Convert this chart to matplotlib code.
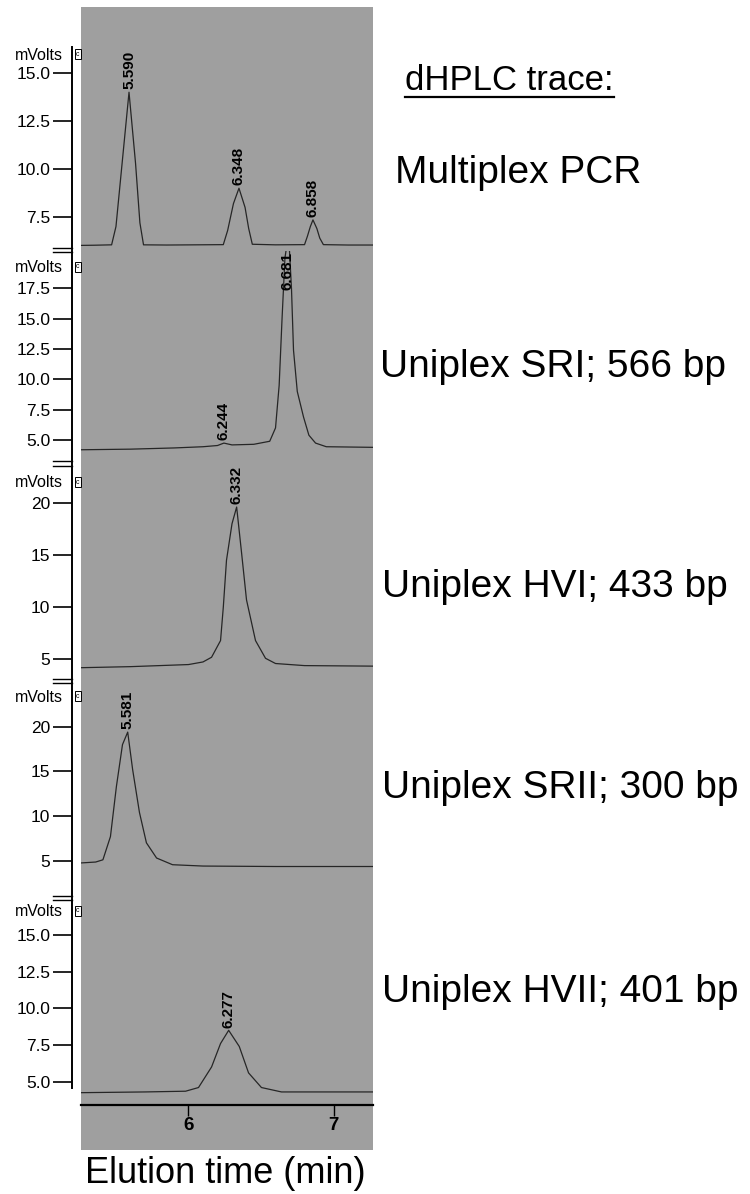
import matplotlib
matplotlib.use("Agg")
import matplotlib.pyplot as plt
from matplotlib.lines import Line2D
from matplotlib.transforms import blended_transform_factory

plt.rcParams['font.family'] = ['Liberation Sans', 'DejaVu Sans']

# ---------------- data ----------------
panel_names = ["Multiplex PCR", "Uniplex SRI; 566 bp", "Uniplex HVI; 433 bp",
               "Uniplex SRII; 300 bp", "Uniplex HVII; 401 bp"]

t_multiplex = [5.25, 5.35, 5.47, 5.50, 5.545, 5.59, 5.635, 5.665, 5.69, 5.85, 6.05, 6.24,
               6.27, 6.31, 6.348, 6.39, 6.415, 6.44, 6.60, 6.80, 6.82, 6.84, 6.858, 6.885,
               6.905, 6.93, 7.10, 7.27]
v_multiplex = [6.02, 6.03, 6.05, 7.0, 10.5, 14.0, 10.3, 7.2, 6.05, 6.04, 6.05, 6.06,
               6.8, 8.2, 9.0, 8.0, 6.9, 6.08, 6.05, 6.06, 6.5, 7.0, 7.35, 6.9,
               6.4, 6.06, 6.04, 6.04]

t_sri = [5.26, 5.6, 5.9, 6.1, 6.2, 6.244, 6.30, 6.45, 6.56, 6.60, 6.625, 6.645, 6.665,
         6.69, 6.71, 6.724, 6.75, 6.793, 6.83, 6.876, 6.95, 7.27]
v_sri = [4.2, 4.25, 4.35, 4.45, 4.55, 4.75, 4.6, 4.65, 4.9, 6.0, 9.5, 15.0, 20.0,
         22.0, 17.5, 12.4, 9.0, 6.9, 5.4, 4.75, 4.45, 4.4]

t_hvi = [5.26, 5.6, 6.0, 6.10, 6.159, 6.221, 6.24, 6.262, 6.30, 6.332, 6.366, 6.40,
         6.462, 6.531, 6.60, 6.8, 7.27]
v_hvi = [4.2, 4.3, 4.5, 4.75, 5.2, 6.8, 10.0, 14.5, 18.0, 19.6, 15.2, 10.7,
         6.8, 5.1, 4.6, 4.4, 4.35]

t_srii = [5.26, 5.36, 5.41, 5.462, 5.503, 5.545, 5.581, 5.615, 5.662, 5.71, 5.78, 5.89,
          6.1, 6.6, 7.27]
v_srii = [4.75, 4.85, 5.1, 7.7, 13.3, 18.0, 19.4, 15.2, 10.4, 7.0, 5.3, 4.55,
          4.4, 4.35, 4.35]

t_hvii = [5.26, 5.7, 5.98, 6.069, 6.159, 6.221, 6.277, 6.35, 6.414, 6.503, 6.641, 7.0, 7.27]
v_hvii = [4.25, 4.3, 4.35, 4.6, 6.0, 7.6, 8.5, 7.4, 5.6, 4.6, 4.3, 4.3, 4.3]

peak_labels = [["5.590", "6.348", "6.858"], ["6.244", "6.681"], ["6.332"], ["5.581"], ["6.277"]]
peak_times = [[5.59, 6.348, 6.858], [6.244, 6.681], [6.332], [5.581], [6.277]]
peak_heights = [[14.0, 9.0, 7.35], [4.75, 22.0], [19.6], [19.4], [8.5]]

yticks_list = [[7.5, 10.0, 12.5, 15.0],
               [5.0, 7.5, 10.0, 12.5, 15.0, 17.5],
               [5, 10, 15, 20],
               [5, 10, 15, 20],
               [5.0, 7.5, 10.0, 12.5, 15.0]]
ytick_fmt = ["{:.1f}", "{:.1f}", "{:.0f}", "{:.0f}", "{:.1f}"]
xticks = [6, 7]
xtick_labels = ["6", "7"]

traces_t = [t_multiplex, t_sri, t_hvi, t_srii, t_hvii]
traces_v = [v_multiplex, v_sri, v_hvi, v_srii, v_hvii]

# ---------------- layout ----------------
W, H = 750, 1194
fig = plt.figure(figsize=(7.5, 11.94), dpi=100)
fig.patch.set_facecolor('white')

def fy(p):
    return 1 - p / H

LEFT_PX, RIGHT_PX = 81, 373
GRAY_TOP, GRAY_BOT = 7, 1150
panel_px = [(7, 249), (251, 463), (465, 680), (682, 897), (899, 1105)]
ylims = [(5.833, 18.44), (3.11, 20.57), (3.02, 23.63), (0.935, 25.01), (3.41, 17.45)]
xlim = (5.259, 7.272)
mvolts_px = [55, 268, 483, 697, 912]
label_px = [(395, 183), (380, 377), (382, 597), (382, 798), (382, 1002)]
spine_bounds = [(5.833, 16.35), None, None, None, (4.6, 17.45)]

gray = fig.add_axes([LEFT_PX / W, fy(GRAY_BOT), (RIGHT_PX - LEFT_PX) / W,
                     (GRAY_BOT - GRAY_TOP) / H], zorder=0)
gray.set_facecolor('#9f9f9f')
gray.set_xticks([]); gray.set_yticks([])
for s in gray.spines.values():
    s.set_visible(False)

axes = []
for i, (top, bot) in enumerate(panel_px):
    ax = fig.add_axes([LEFT_PX / W, fy(bot), (RIGHT_PX - LEFT_PX) / W, (bot - top) / H],
                      zorder=2)
    ax.patch.set_alpha(0)
    ax.set_xlim(*xlim)
    ax.set_ylim(*ylims[i])
    ax.plot(traces_t[i], traces_v[i], color='#262626', lw=0.9, clip_on=True)
    for s in ['top', 'right']:
        ax.spines[s].set_visible(False)
    ax.spines['left'].set_position(('outward', 6.5))
    ax.spines['left'].set_linewidth(1.4)
    if spine_bounds[i] is not None:
        ax.spines['left'].set_bounds(*spine_bounds[i])
    ax.set_yticks(yticks_list[i])
    ax.set_yticklabels([ytick_fmt[i].format(v) for v in yticks_list[i]])
    ax.tick_params(axis='y', direction='out', length=14, width=1.2, pad=1.5,
                   labelsize=12.5)
    if i < 4:
        ax.spines['bottom'].set_visible(False)
        ax.set_xticks([])
    else:
        ax.spines['bottom'].set_linewidth(1.6)
        ax.set_xticks(xticks)
        ax.set_xticklabels(xtick_labels, fontweight='bold')
        ax.tick_params(axis='x', direction='out', length=8, width=1.0, pad=1,
                       labelsize=13.5)
    # peak labels
    top_val = ylims[i][1]
    for lab, pt, ph in zip(peak_labels[i], peak_times[i], peak_heights[i]):
        if ph >= top_val:
            tr = blended_transform_factory(ax.transData, ax.transAxes)
            ax.text(pt, 0.995, lab, rotation=90, ha='center', va='top',
                    fontsize=11, fontweight='bold', transform=tr)
        else:
            ax.annotate(lab, (pt, ph), xytext=(0, 2), textcoords='offset points',
                        rotation=90, ha='center', va='bottom', fontsize=11,
                        fontweight='bold')
    # mVolts label
    fig.text(63 / W, fy(mvolts_px[i]), "mVolts", ha='right', va='center', fontsize=11.5)
    # small box at top of the spine
    fig.text(78 / W, fy(mvolts_px[i] - 1), "c", ha='center', va='center', fontsize=5,
             bbox=dict(boxstyle='square,pad=0.25', fc='white', ec='black', lw=0.7))
    # right-hand label
    lx, ly = label_px[i]
    fig.text(lx / W, fy(ly), panel_names[i], ha='left', va='baseline', fontsize=28)
    axes.append(ax)

# break marks between panels
for top, bot in panel_px[1:]:
    for dy in (-2.5, 2.0):
        fig.add_artist(Line2D([53 / W, 72 / W], [fy(top - 1 + dy), fy(top - 1 + dy)],
                              color='black', lw=1.0))

# title with underline
title = fig.text(405 / W, fy(90), "dHPLC trace:", ha='left', va='baseline', fontsize=25)
fig.canvas.draw()
bb = title.get_window_extent()
fig.add_artist(Line2D([bb.x0 / W, bb.x1 / W], [fy(97), fy(97)], color='black', lw=1.6))

fig.text(225 / W, fy(1183), "Elution time (min)", ha='center', va='baseline', fontsize=26)

fig.savefig("out.png", dpi=100)
